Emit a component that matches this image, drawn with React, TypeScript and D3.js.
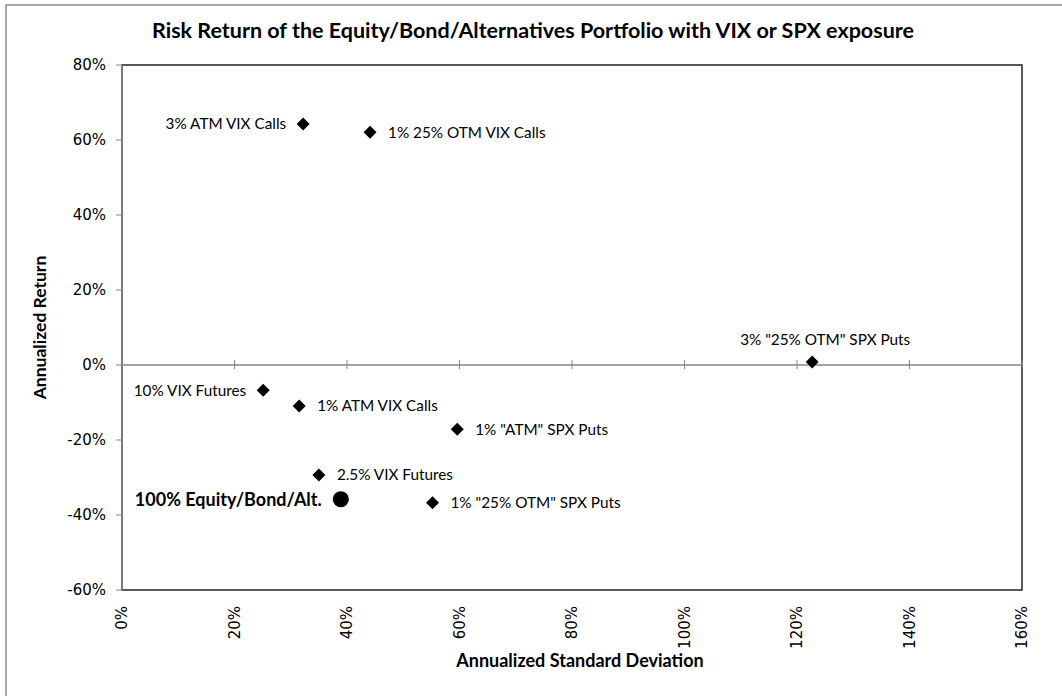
import React from 'react';
import * as d3 from 'd3';

// portfolio variants (diamonds)
const names = [
  '3% ATM VIX Calls',
  '1% 25% OTM VIX Calls',
  '3% "25% OTM" SPX Puts',
  '10% VIX Futures',
  '1% ATM VIX Calls',
  '1% "ATM" SPX Puts',
  '2.5% VIX Futures',
  '1% "25% OTM" SPX Puts',
];
const stdDev = [32.2, 44.1, 122.7, 25.1, 31.5, 59.6, 35.0, 55.2];
const annReturn = [64.3, 62.1, 0.8, -6.7, -10.9, -17.1, -29.3, -36.7];
const labelSide = ['left', 'right', 'above', 'left', 'right', 'right', 'right', 'right'];

// base portfolio (circle)
const baseName = '100% Equity/Bond/Alt.';
const baseStdDev = 38.9;
const baseReturn = -35.8;

const xTicks = [0, 20, 40, 60, 80, 100, 120, 140, 160];
const yTicks = [-60, -40, -20, 0, 20, 40, 60, 80];

const W = 1062;
const H = 696;
const margin = { top: 65, right: 40, bottom: 106, left: 122 };

const labelFont = 'Lato, "Open Sans", sans-serif';
const tickFont = '"DejaVu Sans", Verdana, sans-serif';

const App = () => {
  const x = d3.scaleLinear().domain([0, 160]).range([margin.left, W - margin.right]);
  const y = d3.scaleLinear().domain([-60, 80]).range([H - margin.bottom, margin.top]);
  const fmt = (v: number) => `${v}%`;
  const diamond = (cx: number, cy: number, r: number) =>
    `M${cx},${cy - r}L${cx + r},${cy}L${cx},${cy + r}L${cx - r},${cy}Z`;

  const x0 = x(0);
  const x1 = x(160);
  const yTop = y(80);
  const yBot = y(-60);
  const yZero = y(0);

  return (
    <svg width={W} height={H} style={{ position: 'absolute', left: 0, top: 0, background: '#fff' }}>
      <rect x={6} y={5} width={1200} height={900} fill="#fff" stroke="#8c8c8c" strokeWidth={1.5} />

      <text x={533} y={38} textAnchor="middle" fontFamily={labelFont} fontWeight="bold" fontSize={21.5}>
        Risk Return of the Equity/Bond/Alternatives Portfolio with VIX or SPX exposure
      </text>

      {/* plot area border */}
      <rect x={x0} y={yTop} width={x1 - x0} height={yBot - yTop} fill="none" stroke="#222" strokeWidth={1.5} />

      {/* y axis */}
      <line x1={x0} x2={x0} y1={yTop} y2={yBot} stroke="#868686" strokeWidth={1.5} />
      {yTicks.map(t => (
        <g key={t}>
          <line x1={x0 - 6} x2={x0} y1={y(t)} y2={y(t)} stroke="#868686" />
          <text x={x0 - 16} y={y(t)} dy="0.36em" textAnchor="end" fontFamily={tickFont} fontSize={15} fill="#000">
            {fmt(t)}
          </text>
        </g>
      ))}

      {/* x axis through zero */}
      <line x1={x0} x2={x1} y1={yZero} y2={yZero} stroke="#868686" strokeWidth={1.5} />
      {xTicks.map(t => (
        <g key={t}>
          <line x1={x(t)} x2={x(t)} y1={yZero - 5} y2={yZero + 4} stroke="#868686" />
          <text
            transform={`translate(${x(t)},${yBot + 16}) rotate(-90)`}
            dy="0.36em"
            textAnchor="end"
            fontFamily={tickFont}
            fontSize={15}
          >
            {fmt(t)}
          </text>
        </g>
      ))}

      <text x={580} y={667} textAnchor="middle" fontFamily={labelFont} fontWeight="bold" fontSize={18}>
        Annualized Standard Deviation
      </text>
      <text
        transform={`translate(46,${(yTop + yBot) / 2}) rotate(-90)`}
        textAnchor="middle"
        fontFamily={labelFont}
        fontWeight="bold"
        fontSize={17.5}
      >
        Annualized Return
      </text>

      {/* diamonds */}
      {names.map((n, i) => {
        const cx = x(stdDev[i]);
        const cy = y(annReturn[i]);
        const side = labelSide[i];
        const lx = side === 'left' ? cx - 17 : side === 'right' ? cx + 18 : cx + 13;
        const ly = side === 'above' ? cy - 17 : cy;
        return (
          <g key={n}>
            <path d={diamond(cx, cy, 6.5)} fill="#000" />
            <text
              x={lx}
              y={ly}
              dy={side === 'above' ? 0 : '0.36em'}
              textAnchor={side === 'left' ? 'end' : side === 'right' ? 'start' : 'middle'}
              fontFamily={labelFont}
              fontSize={15.3}
            >
              {n}
            </text>
          </g>
        );
      })}

      {/* base portfolio */}
      <circle cx={x(baseStdDev)} cy={y(baseReturn)} r={8} fill="#000" />
      <text
        x={x(baseStdDev) - 19}
        y={y(baseReturn)}
        dy="0.36em"
        textAnchor="end"
        fontFamily={labelFont}
        fontWeight="bold"
        fontSize={18}
      >
        {baseName}
      </text>
    </svg>
  );
};

export default App;
